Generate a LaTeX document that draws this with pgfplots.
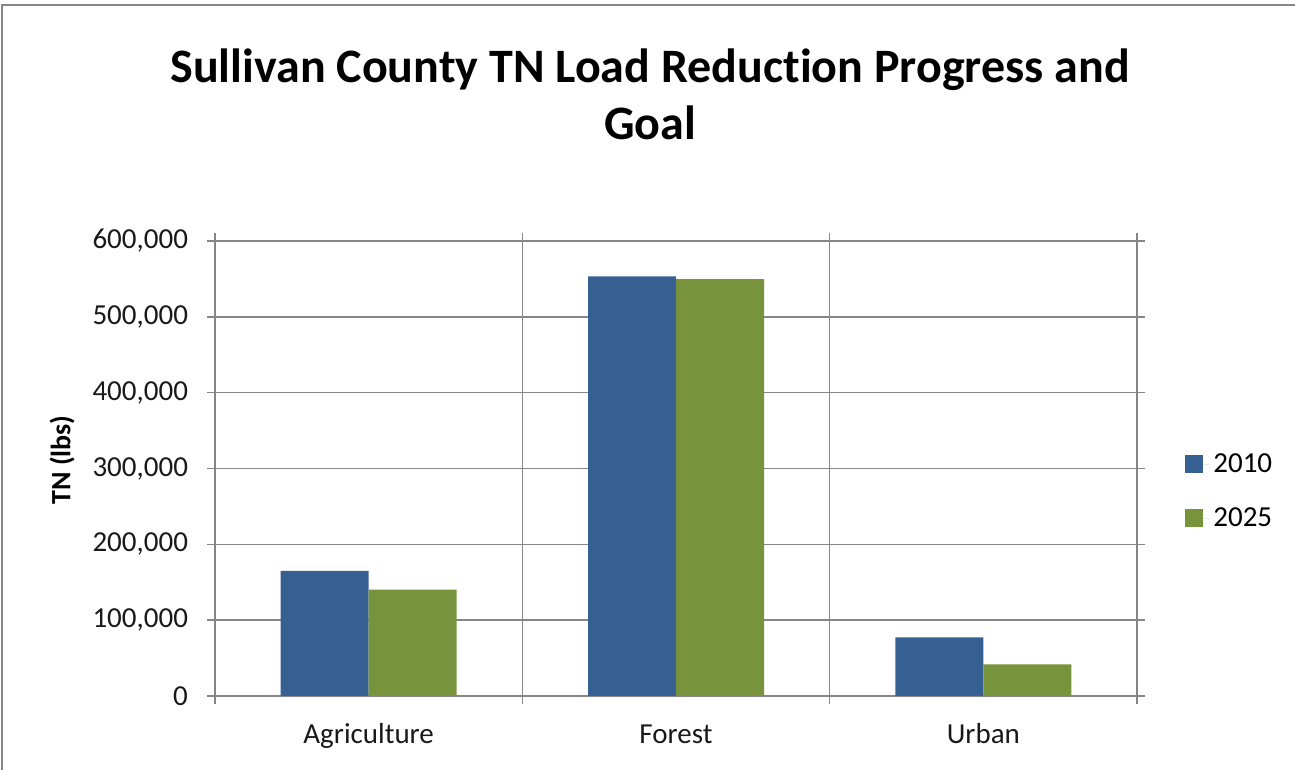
\documentclass[border=0pt]{standalone}
\usepackage{pgfplots}
\pgfplotsset{compat=1.18}
\usepackage{fontspec}
\setmainfont{Carlito}[Ligatures=NoCommon]
\definecolor{barblue}{RGB}{55,96,146}
\definecolor{bargreen}{RGB}{119,147,60}
\definecolor{gridgray}{RGB}{134,134,134}
\begin{document}
\begin{tikzpicture}
\useasboundingbox (0,0) rectangle (647.5pt,385pt);
\draw[gridgray, line width=1pt] (1pt,0) -- (1pt,382.5pt) -- (647.5pt,382.5pt);
\node[align=center, font=\fontsize{24}{28.5}\selectfont\bfseries] at (325pt,338pt) {Sullivan County TN Load Reduction Progress and\\Goal};
\node[rotate=90, font=\fontsize{14}{16}\selectfont\bfseries] at (31pt,155pt) {TN (lbs)};
\begin{axis}[
  at={(107.5pt,37pt)}, anchor=south west,
  scale only axis, width=461pt, height=227.5pt,
  xmin=-0.5, xmax=2.5, ymin=0, ymax=600000,
  ybar=0pt, bar width=44pt,
  xtick={0,1,2}, xticklabels={Agriculture,Forest,Urban},
  major x tick style={draw=none},
  minor xtick={-0.5,0.5,1.5,2.5},
  minor x tick style={gridgray, line width=0.75pt},
  xminorgrids, minor x grid style={gridgray, line width=0.75pt},
  ytick={0,100000,200000,300000,400000,500000,600000},
  ymajorgrids, major y grid style={gridgray, line width=0.75pt},
  y tick style={gridgray, line width=0.75pt},
  tick align=outside, major tick length=4pt, minor tick length=4pt,
  axis line style={gridgray, line width=0.75pt},
  scaled y ticks=false,
  /pgf/number format/.cd, fixed, 1000 sep={,}, assume math mode=true, /pgfplots/.cd,
  ticklabel style={font=\fontsize{14.5}{17}\selectfont, text=black!90},
  xticklabel style={yshift=-6pt, text height=10pt, text depth=3pt},
  yticklabel style={xshift=-6pt},
  legend style={at={(1.052,0.45)}, anchor=west, draw=none, fill=none,
    font=\fontsize{14.5}{17}\selectfont, row sep=12pt, inner sep=0pt},
  legend cell align=left,
  legend image code/.code={\fill[#1] (0pt,-4.5pt) rectangle (9pt,4.5pt); \path (0pt,0pt) -- (12pt,0pt);},
  clip=false,
]
\addplot[fill=barblue, draw=none] coordinates {(0,164900) (1,553500) (2,77200)};
\addplot[fill=bargreen, draw=none] coordinates {(0,140400) (1,549600) (2,41700)};
\legend{2010,2025}
\end{axis}
\end{tikzpicture}
\end{document}
